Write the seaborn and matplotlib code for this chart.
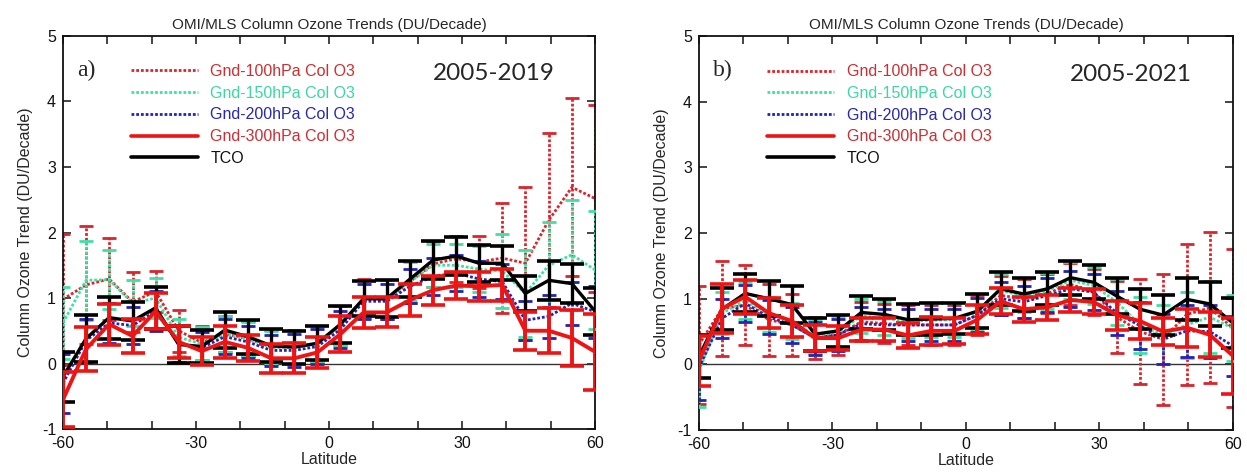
import numpy as np
import pandas as pd
import matplotlib
matplotlib.use("Agg")
import matplotlib.pyplot as plt
from matplotlib.ticker import MultipleLocator
import seaborn as sns

# Latitude band positions (24 bands spread over 60S-60N)
lat = [-60.0, -54.8, -49.6, -44.3, -39.1, -33.9, -28.7, -23.5, -18.3, -13.0, -7.8, -2.6,
       2.6, 7.8, 13.0, 18.3, 23.5, 28.7, 33.9, 39.1, 44.3, 49.6, 54.8, 60.0]

# ---- 2005-2019 trends (DU/decade) and 2-sigma uncertainties ----
c100_a = [0.98, 1.20, 1.29, 0.94, 1.10, 0.50, 0.32, 0.45, 0.38, 0.25, 0.25, 0.30,
          0.58, 0.99, 0.98, 1.25, 1.52, 1.60, 1.55, 1.61, 1.53, 2.19, 2.69, 2.52]
c100_a_err = [1.00, 0.90, 0.62, 0.46, 0.31, 0.32, 0.26, 0.28, 0.27, 0.26, 0.26, 0.27,
              0.30, 0.30, 0.30, 0.32, 0.35, 0.35, 0.40, 0.84, 1.17, 1.33, 1.36, 1.43]
c150_a = [0.62, 1.27, 1.28, 0.92, 1.00, 0.40, 0.30, 0.45, 0.38, 0.25, 0.25, 0.30,
          0.58, 0.99, 0.99, 1.25, 1.50, 1.50, 1.44, 1.41, 1.07, 1.50, 1.66, 1.43]
c150_a_err = [0.55, 0.60, 0.45, 0.35, 0.30, 0.28, 0.25, 0.28, 0.26, 0.25, 0.25, 0.27,
              0.30, 0.28, 0.28, 0.30, 0.33, 0.33, 0.35, 0.57, 0.66, 0.66, 0.84, 0.90]
c200_a = [-0.30, 0.35, 0.62, 0.58, 0.80, 0.30, 0.24, 0.41, 0.33, 0.20, 0.20, 0.26,
          0.52, 0.95, 0.95, 1.18, 1.33, 1.38, 1.29, 1.25, 0.66, 0.72, 0.92, 0.79]
c200_a_err = [0.45, 0.33, 0.30, 0.28, 0.30, 0.27, 0.24, 0.27, 0.25, 0.24, 0.25, 0.26,
              0.28, 0.27, 0.27, 0.26, 0.28, 0.28, 0.27, 0.27, 0.30, 0.33, 0.33, 0.40]
c300_a = [-0.55, 0.22, 0.60, 0.42, 0.80, 0.33, 0.19, 0.33, 0.24, 0.08, 0.08, 0.17,
          0.45, 0.78, 0.78, 0.97, 1.12, 1.19, 1.18, 1.20, 0.50, 0.50, 0.39, 0.18]
c300_a_err = [0.42, 0.34, 0.31, 0.26, 0.28, 0.24, 0.22, 0.25, 0.20, 0.22, 0.23, 0.24,
              0.28, 0.24, 0.23, 0.24, 0.22, 0.20, 0.22, 0.25, 0.29, 0.34, 0.43, 0.58]
tco_a = [-0.20, 0.38, 0.70, 0.65, 0.85, 0.29, 0.26, 0.51, 0.41, 0.27, 0.25, 0.31,
         0.60, 0.99, 0.99, 1.29, 1.58, 1.64, 1.53, 1.53, 1.07, 1.27, 1.22, 0.80]
tco_a_err = [0.38, 0.36, 0.32, 0.29, 0.32, 0.28, 0.25, 0.28, 0.26, 0.25, 0.25, 0.26,
             0.28, 0.27, 0.28, 0.27, 0.29, 0.29, 0.28, 0.26, 0.27, 0.30, 0.30, 0.36]

# ---- 2005-2021 trends (DU/decade) and 2-sigma uncertainties ----
c100_b = [0.30, 0.85, 0.90, 0.68, 0.60, 0.40, 0.45, 0.65, 0.62, 0.60, 0.60, 0.60,
          0.75, 1.05, 1.00, 1.08, 1.22, 1.10, 0.72, 0.50, 0.38, 0.76, 0.86, 0.55]
c100_b_err = [0.90, 0.73, 0.61, 0.55, 0.47, 0.32, 0.30, 0.30, 0.30, 0.30, 0.30, 0.30,
              0.30, 0.30, 0.30, 0.30, 0.32, 0.35, 0.55, 0.80, 1.00, 1.08, 1.15, 1.20]
c150_b = [-0.10, 0.78, 0.97, 0.76, 0.66, 0.43, 0.49, 0.74, 0.70, 0.66, 0.67, 0.68,
          0.80, 1.12, 1.05, 1.12, 1.28, 1.20, 0.95, 0.60, 0.45, 0.60, 0.72, 0.55]
c150_b_err = [0.55, 0.32, 0.28, 0.27, 0.27, 0.25, 0.24, 0.26, 0.26, 0.26, 0.26, 0.26,
              0.27, 0.26, 0.26, 0.27, 0.28, 0.28, 0.35, 0.42, 0.45, 0.50, 0.55, 0.50]
c200_b = [-0.05, 0.70, 0.93, 0.72, 0.60, 0.40, 0.45, 0.62, 0.60, 0.60, 0.60, 0.60,
          0.75, 1.00, 0.95, 1.05, 1.15, 1.10, 0.78, 0.59, 0.38, 0.51, 0.50, 0.28]
c200_b_err = [0.50, 0.30, 0.28, 0.26, 0.27, 0.25, 0.24, 0.25, 0.25, 0.25, 0.25, 0.25,
              0.26, 0.25, 0.25, 0.26, 0.27, 0.27, 0.33, 0.36, 0.38, 0.40, 0.40, 0.45]
c300_b = [0.05, 0.85, 1.03, 0.78, 0.66, 0.40, 0.40, 0.53, 0.53, 0.44, 0.51, 0.51,
          0.68, 0.96, 0.84, 0.87, 0.98, 0.95, 0.75, 0.66, 0.50, 0.56, 0.45, 0.13]
c300_b_err = [0.38, 0.37, 0.26, 0.23, 0.25, 0.20, 0.18, 0.18, 0.18, 0.19, 0.21, 0.20,
              0.22, 0.20, 0.19, 0.19, 0.18, 0.19, 0.22, 0.28, 0.20, 0.29, 0.34, 0.58]
tco_b = [0.12, 0.84, 1.08, 1.00, 0.91, 0.46, 0.51, 0.79, 0.76, 0.68, 0.69, 0.70,
         0.81, 1.15, 1.07, 1.15, 1.32, 1.25, 1.04, 0.84, 0.75, 0.99, 0.92, 0.63]
tco_b_err = [0.33, 0.32, 0.29, 0.27, 0.28, 0.25, 0.24, 0.25, 0.24, 0.24, 0.24, 0.24,
             0.26, 0.25, 0.25, 0.25, 0.26, 0.26, 0.28, 0.30, 0.30, 0.32, 0.34, 0.38]

labels = ["Gnd-100hPa Col O3", "Gnd-150hPa Col O3", "Gnd-200hPa Col O3",
          "Gnd-300hPa Col O3", "TCO"]
line_colors = ["#d9262c", "#3fe0a4", "#2323b8", "#ee1414", "#000000"]
text_colors = ["#cc2f33", "#3ad9a0", "#2828b0", "#cc2f33", "#111111"]
periods = ["2005-2019", "2005-2021"]
panel_tags = ["a)", "b)"]

sns.set_style("ticks")
plt.rcParams["font.family"] = ["Liberation Sans", "DejaVu Sans"]
plt.rcParams["axes.unicode_minus"] = False

fig = plt.figure(figsize=(12.47, 4.76), dpi=100)
ax_a = fig.add_axes([0.0505, 0.0987, 0.4266, 0.8257])
ax_b = fig.add_axes([0.5605, 0.0966, 0.4282, 0.8277])

dot = (0, (1.0, 0.7))
panels = [
    (ax_a, [c100_a, c150_a, c200_a, c300_a, tco_a],
     [c100_a_err, c150_a_err, c200_a_err, c300_a_err, tco_a_err]),
    (ax_b, [c100_b, c150_b, c200_b, c300_b, tco_b],
     [c100_b_err, c150_b_err, c200_b_err, c300_b_err, tco_b_err]),
]
styles = [dict(ls=dot, lw=2.0, z=2, cap=5.0, capw=2.0),
          dict(ls=dot, lw=2.0, z=3, cap=5.0, capw=2.0),
          dict(ls=dot, lw=2.0, z=4, cap=5.0, capw=2.0),
          dict(ls="-", lw=2.8, z=6, cap=8.5, capw=2.6),
          dict(ls="-", lw=2.4, z=5, cap=8.5, capw=2.6)]

for k, (ax, series, errs) in enumerate(panels):
    ax.axhline(0, color="#333333", lw=1.0, zorder=1)
    for vals, err, lab, col, st in zip(series, errs, labels, line_colors, styles):
        df = pd.DataFrame({"lat": lat, "trend": vals})
        sns.lineplot(data=df, x="lat", y="trend", ax=ax, color=col, sort=False,
                     linestyle=st["ls"], lw=st["lw"], zorder=st["z"], label=lab)
        eb = ax.errorbar(lat, vals, yerr=err, fmt="none", ecolor=col,
                         elinewidth=st["lw"], capsize=st["cap"], capthick=st["capw"],
                         zorder=st["z"])
        if st["ls"] != "-":
            for bl in eb[2]:
                bl.set_linestyle(st["ls"])
    ax.set_xlim(-60, 60)
    ax.set_ylim(-1, 5)
    ax.xaxis.set_major_locator(MultipleLocator(30))
    ax.xaxis.set_minor_locator(MultipleLocator(10))
    ax.yaxis.set_major_locator(MultipleLocator(1))
    ax.tick_params(which="both", direction="in", top=True, right=True,
                   length=6, width=1.1, labelsize=11.5, pad=5, colors="#111111")
    for sp in ax.spines.values():
        sp.set_linewidth(1.3)
        sp.set_color("#111111")
    ax.set_xlabel("Latitude", fontsize=11.5, labelpad=1)
    ax.set_ylabel("Column Ozone Trend (DU/Decade)", fontsize=11.5, labelpad=6)
    ax.set_title("OMI/MLS Column Ozone Trends (DU/Decade)", fontsize=11, pad=5)
    ax.text(0.027, 0.94, panel_tags[k], transform=ax.transAxes, fontsize=17,
            family="Liberation Serif", va="top", ha="left")
    ax.text(0.695, 0.93, periods[k], transform=ax.transAxes, fontsize=17.5,
            family="Lato", va="top", ha="left")
    leg = ax.legend(loc="upper left", bbox_to_anchor=(0.115, 0.945), frameon=False,
                    fontsize=11.5, handlelength=4.2, handletextpad=0.8,
                    labelspacing=0.42, borderaxespad=0)
    for txt, tc in zip(leg.get_texts(), text_colors):
        txt.set_color(tc)
    for ln in leg.get_lines():
        ln.set_linewidth(2.6 if ln.get_linestyle() == "-" else 2.0)

fig.savefig("out.png", dpi=100, facecolor="white")
